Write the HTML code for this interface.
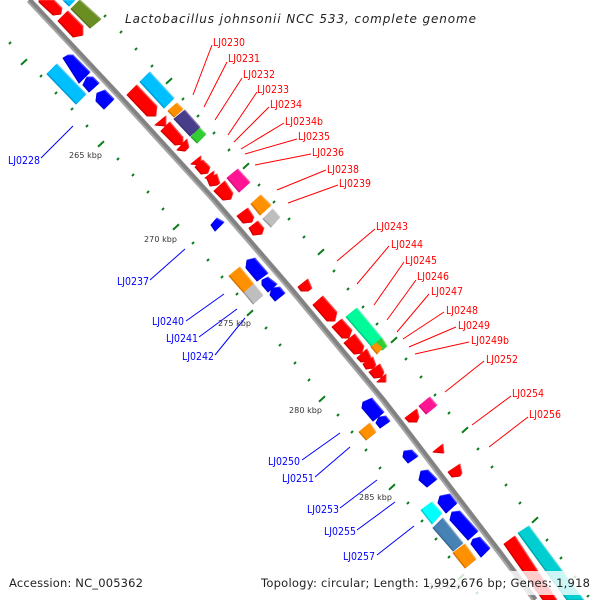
<!DOCTYPE html>
<html><head><meta charset="utf-8"><style>
html,body{margin:0;padding:0;background:#fff}
svg{display:block}
polygon{stroke-width:.9;stroke-linejoin:round}
polygon[fill="#f00"]{stroke:#f00}
polygon[fill="#00f"]{stroke:#00f}
polygon[fill="#00bfff"]{stroke:#00bfff}
polygon[fill="#6b8e23"]{stroke:#6b8e23}
polygon[fill="#ff9000"]{stroke:#ff9000}
polygon[fill="#483d8b"]{stroke:#483d8b}
polygon[fill="#32cd32"]{stroke:#32cd32}
polygon[fill="#ff1493"]{stroke:#ff1493}
polygon[fill="#bebebe"]{stroke:#bebebe}
polygon[fill="#00fa9a"]{stroke:#00fa9a}
polygon[fill="#0ff"]{stroke:#0ff}
polygon[fill="#4682b4"]{stroke:#4682b4}
polygon[fill="#00ced1"]{stroke:#00ced1}
text{font-family:"DejaVu Sans","Liberation Sans",sans-serif}
.lr text{font-size:11px;fill:#f00}
.lb text{font-size:11px;fill:#00f}
.k text{font-size:8px;fill:#333}
</style></head><body>
<svg width="600" height="600" viewBox="0 0 600 600" xmlns="http://www.w3.org/2000/svg">
<defs>
<filter id="bev" x="-10%" y="-10%" width="120%" height="120%" color-interpolation-filters="sRGB">
<feComponentTransfer in="SourceGraphic" result="light"><feFuncR type="linear" slope=".72" intercept=".28"/><feFuncG type="linear" slope=".72" intercept=".28"/><feFuncB type="linear" slope=".72" intercept=".28"/></feComponentTransfer>
<feComponentTransfer in="SourceGraphic" result="dark"><feFuncR type="linear" slope=".82"/><feFuncG type="linear" slope=".82"/><feFuncB type="linear" slope=".82"/></feComponentTransfer>
<feOffset in="SourceAlpha" dx="-1.1" dy="1.1" result="o1"/>
<feOffset in="SourceAlpha" dx="0.8" dy="-0.8" result="o2"/>
<feComposite in="dark" in2="o1" operator="in" result="d1"/>
<feComposite in="SourceGraphic" in2="o1" operator="in" result="m1"/>
<feComposite in="m1" in2="o2" operator="in" result="m2"/>
<feMerge><feMergeNode in="light"/><feMergeNode in="d1"/><feMergeNode in="m2"/></feMerge>
</filter>
</defs>

<polyline points="29,0 120,97 214,200 290,288 383,400 400,422 503,557 535,600" fill="none" stroke="#a6a6a6" stroke-width="6"/>
<polyline points="29,0 120,97 214,200 290,288 383,400 400,422 503,557 535,600" fill="none" stroke="#828282" stroke-width="3.6" transform="translate(.6,-.6)"/>

<path fill="none" stroke="#0a7d1a" stroke-width="2" d="M105 16m-1 1l2-2M121 32m-1 1l2-2M136 49m-1 1l2-2M152 66m-1 1l2-2M183 99m-1 1l2-2M198 116m-1 1l2-2M214 133m-1 1l2-2M229 150m-1 1l2-2M259 185m-1 1l2-2M274 202m-1 1l2-2M289 219m-1 1l2-2M304 237m-1 1l2-2M334 271m-1 1l2-2M348 289m-1 1l2-2M363 307m-1 1l2-2M377 324m-1 1l2-2M406 359m-1 1l2-2M421 377m-1 1l2-2M435 395m-1 1l2-2M449 413m-1 1l2-2M478 449m-1 1l2-2M492 467m-1 1l2-2M506 485m-1 1l2-2M520 503m-1 1l2-2M547 540m-1 1l2-2M561 558m-1 1l2-2M575 577m-1 1l2-2M588 596m-1 1l2-2M10 43m-1 1l2-2M41 76m-1 1l2-2M56 93m-1 1l2-2M72 109m-1 1l2-2M87 126m-1 1l2-2M118 159m-1 1l2-2M133 175m-1 1l2-2M148 192m-1 1l2-2M163 209m-1 1l2-2M193 243m-1 1l2-2M208 260m-1 1l2-2M222 277m-1 1l2-2M237 294m-1 1l2-2M266 328m-1 1l2-2M280 345m-1 1l2-2M295 363m-1 1l2-2M309 380m-1 1l2-2M338 415m-1 1l2-2M352 432m-1 1l2-2M366 450m-1 1l2-2M380 468m-1 1l2-2M408 503m-1 1l2-2M422 521m-1 1l2-2M436 539m-1 1l2-2M449 557m-1 1l2-2M477 593m-1 1l2-2"/>
<path fill="none" stroke="#0a7d1a" stroke-width="2" d="M169 81m-3 2.7l6-5.4M246 166m-3 2.7l6-5.4M321 252m-3 2.7l6-5.4M394 340m-3 2.7l6-5.4M465 430m-3 2.7l6-5.4M535 520m-3 2.7l6-5.4M24 62m-3 2.7l6-5.4M101 144m-3 2.7l6-5.4M176 227m-3 2.7l6-5.4M250 313m-3 2.7l6-5.4M322 399m-3 2.7l6-5.4M392 487m-3 2.7l6-5.4M461 577m-3 2.7l6-5.4"/>

<g filter="url(#bev)">
<polygon fill="#f00" points="39,0 54,0 62,8 61,14 53,15 39,2"/>
<polygon fill="#00bfff" points="63,0 75,0 69,6"/>
<polygon fill="#6b8e23" points="80,0 101,19 90,28 71,9"/>
<polygon fill="#f00" points="68,11 83,26 83,35 73,37 58,21"/>
<polygon fill="#00f" points="63,58 68,55 73,55 90,72 79,83"/>
<polygon fill="#00f" points="87,77 93,77 99,83 89,92 83,85"/>
<polygon fill="#00f" points="105,90 114,99 104,109 96,101 97,93"/>
<polygon fill="#00bfff" points="57,64 86,94 76,104 47,74"/>
<polygon fill="#f00" points="137,85 157,106 156,116 147,116 127,95"/>
<polygon fill="#00bfff" points="150,72 174,98 164,108 140,82"/>
<polygon fill="#ff9000" points="177,103 183,109 174,117 168,111"/>
<polygon fill="#483d8b" points="185,110 200,127 190,136 174,119"/>
<polygon fill="#32cd32" points="200,128 206,134 197,143 191,137"/>
<polygon fill="#f00" points="166,116 166,126 155,125"/>
<polygon fill="#f00" points="170,122 183,137 183,144 175,145 161,131"/>
<polygon fill="#f00" points="187,139 189,147 185,151 177,150"/>
<polygon fill="#f00" points="201,156 201,165 191,164"/>
<polygon fill="#f00" points="203,160 210,167 208,173 201,174 195,167"/>
<polygon fill="#f00" points="214,171 214,179 205,178"/>
<polygon fill="#f00" points="217,174 220,183 217,185 210,186 207,179"/>
<polygon fill="#f00" points="225,181 233,193 231,199 223,200 214,191"/>
<polygon fill="#ff1493" points="238,169 250,182 239,192 227,178"/>
<polygon fill="#ff9000" points="261,195 271,205 260,215 251,204"/>
<polygon fill="#f00" points="248,208 254,217 252,222 243,223 237,216"/>
<polygon fill="#bebebe" points="273,209 280,217 271,227 263,219"/>
<polygon fill="#f00" points="258,221 264,228 262,234 253,235 249,228"/>
<polygon fill="#00f" points="217,218 224,222 215,231 211,225"/>
<polygon fill="#00f" points="247,260 255,258 268,273 257,281 246,268"/>
<polygon fill="#00f" points="268,277 277,284 268,292 262,285 262,280"/>
<polygon fill="#00f" points="280,287 285,293 275,301 270,295 272,288"/>
<polygon fill="#ff9000" points="240,267 254,284 244,293 229,276"/>
<polygon fill="#bebebe" points="254,284 263,295 253,304 244,293"/>
<polygon fill="#f00" points="308,279 312,288 308,291 301,291 298,287"/>
<polygon fill="#f00" points="323,296 337,312 335,321 327,321 313,305"/>
<polygon fill="#f00" points="342,319 352,330 349,338 342,338 332,327"/>
<polygon fill="#f00" points="355,334 364,346 362,353 354,354 344,343"/>
<polygon fill="#f00" points="367,349 371,357 368,361 361,362 357,358"/>
<polygon fill="#f00" points="373,357 376,365 373,368 366,369 363,364"/>
<polygon fill="#f00" points="380,364 384,372 382,377 374,378 369,372"/>
<polygon fill="#f00" points="386,374 386,382 377,382"/>
<polygon fill="#00fa9a" points="357,308 382,338 372,347 346,317"/>
<polygon fill="#32cd32" points="382,338 387,346 382,350 376,343"/>
<polygon fill="#ff9000" points="376,343 382,348 377,354 371,347"/>
<polygon fill="#00f" points="363,402 372,398 384,412 373,421 362,408"/>
<polygon fill="#00f" points="386,416 390,421 380,428 376,423 379,417"/>
<polygon fill="#ff9000" points="370,423 376,432 366,440 359,432"/>
<polygon fill="#ff1493" points="430,397 437,405 426,414 419,406"/>
<polygon fill="#f00" points="417,409 419,417 417,422 409,422 405,418"/>
<polygon fill="#f00" points="443,444 444,453 433,452"/>
<polygon fill="#f00" points="460,464 462,473 460,476 452,477 448,472"/>
<polygon fill="#00f" points="412,450 418,456 408,463 403,457 404,451"/>
<polygon fill="#00f" points="428,470 437,479 427,487 419,480 421,471"/>
<polygon fill="#00f" points="450,494 457,503 446,513 438,503 440,496"/>
<polygon fill="#0ff" points="432,502 442,513 432,524 421,510"/>
<polygon fill="#00f" points="460,511 478,531 468,540 450,520 452,512"/>
<polygon fill="#4682b4" points="443,518 463,543 453,551 433,528"/>
<polygon fill="#00f" points="480,537 490,548 481,557 471,544 473,539"/>
<polygon fill="#ff9000" points="465,544 476,559 465,568 453,553"/>
<polygon fill="#f00" points="515,536 557,600 543,600 504,544"/>
<polygon fill="#00ced1" points="529,526 584,600 567,600 518,533"/>
</g>

<g stroke="#f00" stroke-width="1" fill="none">
<path d="M212 45L193 95M227 62L204 107M242 78L215 120M257 92L228 135M269 107L234 142M284 123L241 149M297 139L245 154M311 154L255 165M326 170L277 190M338 185L288 203M375 229L337 261M389 246L357 284M404 262L374 305M416 280L387 320M429 294L397 332M444 312L403 339M456 327L409 347M469 342L415 354M484 361L445 392M511 396L472 425M528 417L489 447"/>
</g>
<g stroke="#00f" stroke-width="1" fill="none">
<path d="M41 158L73 126M150 280L185 249M186 321L224 294M199 337L237 309M215 355L245 318M302 460L340 433M315 477L350 447M340 508L377 480M357 530L395 502M377 555L414 526"/>
</g>

<g class="lr">
<text x="213" y="46" textLength="32" lengthAdjust="spacingAndGlyphs">LJ0230</text>
<text x="228" y="62" textLength="32" lengthAdjust="spacingAndGlyphs">LJ0231</text>
<text x="243" y="78" textLength="32" lengthAdjust="spacingAndGlyphs">LJ0232</text>
<text x="257" y="93" textLength="32" lengthAdjust="spacingAndGlyphs">LJ0233</text>
<text x="270" y="108" textLength="32" lengthAdjust="spacingAndGlyphs">LJ0234</text>
<text x="285" y="125" textLength="38" lengthAdjust="spacingAndGlyphs">LJ0234b</text>
<text x="298" y="140" textLength="32" lengthAdjust="spacingAndGlyphs">LJ0235</text>
<text x="312" y="156" textLength="32" lengthAdjust="spacingAndGlyphs">LJ0236</text>
<text x="327" y="173" textLength="32" lengthAdjust="spacingAndGlyphs">LJ0238</text>
<text x="339" y="187" textLength="32" lengthAdjust="spacingAndGlyphs">LJ0239</text>
<text x="376" y="230" textLength="32" lengthAdjust="spacingAndGlyphs">LJ0243</text>
<text x="391" y="248" textLength="32" lengthAdjust="spacingAndGlyphs">LJ0244</text>
<text x="405" y="264" textLength="32" lengthAdjust="spacingAndGlyphs">LJ0245</text>
<text x="417" y="280" textLength="32" lengthAdjust="spacingAndGlyphs">LJ0246</text>
<text x="431" y="295" textLength="32" lengthAdjust="spacingAndGlyphs">LJ0247</text>
<text x="446" y="314" textLength="32" lengthAdjust="spacingAndGlyphs">LJ0248</text>
<text x="458" y="329" textLength="32" lengthAdjust="spacingAndGlyphs">LJ0249</text>
<text x="471" y="344" textLength="38" lengthAdjust="spacingAndGlyphs">LJ0249b</text>
<text x="486" y="363" textLength="32" lengthAdjust="spacingAndGlyphs">LJ0252</text>
<text x="512" y="397" textLength="32" lengthAdjust="spacingAndGlyphs">LJ0254</text>
<text x="529" y="418" textLength="32" lengthAdjust="spacingAndGlyphs">LJ0256</text>
</g>
<g class="lb">
<text x="8" y="164" textLength="32" lengthAdjust="spacingAndGlyphs">LJ0228</text>
<text x="117" y="285" textLength="32" lengthAdjust="spacingAndGlyphs">LJ0237</text>
<text x="152" y="325" textLength="32" lengthAdjust="spacingAndGlyphs">LJ0240</text>
<text x="166" y="342" textLength="32" lengthAdjust="spacingAndGlyphs">LJ0241</text>
<text x="182" y="360" textLength="32" lengthAdjust="spacingAndGlyphs">LJ0242</text>
<text x="268" y="465" textLength="32" lengthAdjust="spacingAndGlyphs">LJ0250</text>
<text x="282" y="482" textLength="32" lengthAdjust="spacingAndGlyphs">LJ0251</text>
<text x="307" y="513" textLength="32" lengthAdjust="spacingAndGlyphs">LJ0253</text>
<text x="324" y="535" textLength="32" lengthAdjust="spacingAndGlyphs">LJ0255</text>
<text x="343" y="560" textLength="32" lengthAdjust="spacingAndGlyphs">LJ0257</text>
</g>
<g class="k">
<text x="69" y="158" textLength="33">265 kbp</text>
<text x="144" y="242" textLength="33">270 kbp</text>
<text x="218" y="326" textLength="33">275 kbp</text>
<text x="289" y="413" textLength="33">280 kbp</text>
<text x="359" y="500" textLength="33">285 kbp</text>
<text x="428" y="589" textLength="33">290 kbp</text>
</g>

<rect x="258" y="571" width="342" height="24" fill="#fff" fill-opacity=".8"/>
<text x="125" y="23" font-size="12" font-style="italic" fill="#222" textLength="351" lengthAdjust="spacing">Lactobacillus johnsonii NCC 533, complete genome</text>
<text x="9" y="587" font-size="11.5" fill="#222" textLength="134" lengthAdjust="spacing">Accession: NC_005362</text>
<text x="261" y="587" font-size="11.5" fill="#222" textLength="329" lengthAdjust="spacing">Topology: circular; Length: 1,992,676 bp; Genes: 1,918</text>
</svg>
</body></html>
